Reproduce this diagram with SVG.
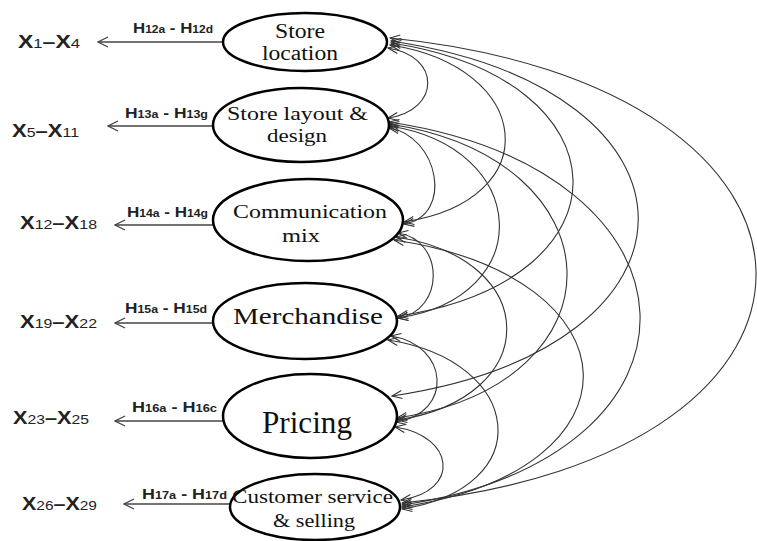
<svg xmlns="http://www.w3.org/2000/svg" width="757" height="541" viewBox="0 0 757 541">
<defs>
<style>
.node ellipse{fill:#fff;stroke:#000;stroke-width:2.5}
.ntx{font-family:"Liberation Serif","Times New Roman",serif;fill:#111}
.lbl{font-family:"Liberation Sans",Arial,sans-serif;font-weight:bold;fill:#222}
.sub{font-weight:normal}
.out{stroke:#444;stroke-width:1.3;fill:none;marker-end:url(#openL)}
.cov{stroke:#333;stroke-width:1.1;fill:none;marker-start:url(#openS);marker-end:url(#openS)}
</style>
<marker id="openL" markerUnits="userSpaceOnUse" markerWidth="12" markerHeight="12" refX="10" refY="5" orient="auto" viewBox="-1 -1 12 12">
<path d="M0,0 L10,5 L0,10" fill="none" stroke="#444" stroke-width="1.3"/>
</marker>
<marker id="openS" markerUnits="userSpaceOnUse" markerWidth="12" markerHeight="10" refX="10" refY="4" orient="auto-start-reverse" viewBox="-1 -1 12 10">
<path d="M0,0 L10,4 L0,8" fill="none" stroke="#333" stroke-width="1.1"/>
</marker>
</defs>
<rect width="757" height="541" fill="#fff"/>

<g id="connectors">
<line class="out" x1="223" y1="42" x2="98" y2="42"/>
<line class="out" x1="213" y1="126" x2="108" y2="126"/>
<line class="out" x1="213" y1="225" x2="115" y2="225"/>
<line class="out" x1="213" y1="323" x2="115" y2="323"/>
<line class="out" x1="223" y1="421" x2="115" y2="421"/>
<line class="out" x1="230" y1="504" x2="124" y2="504"/>

<path class="cov" d="M388,48 C441,56 441,110 388,118"/>
<path class="cov" d="M390,45 C534,67 548,200 404,222"/>
<path class="cov" d="M391,43 C629,79 636,280 398,316"/>
<path class="cov" d="M391,41 C720,90 721,347 392,396"/>
<path class="cov" d="M390,38 C870,86 882,455 402,503"/>
<path class="cov" d="M389,128 C439,136 454,216 404,224"/>
<path class="cov" d="M389,126 C530,147 539,297 398,318"/>
<path class="cov" d="M389,124 C621,159 629,383 397,418"/>
<path class="cov" d="M389,122 C715,171 728,456 402,505"/>
<path class="cov" d="M398,233 C445,240 445,311 398,318"/>
<path class="cov" d="M396,237 C543,259 544,398 397,420"/>
<path class="cov" d="M394,240 C641,277 649,470 402,507"/>
<path class="cov" d="M391,336 C449,345 454,413 396,422"/>
<path class="cov" d="M388,340 C525,361 539,488 402,509"/>
<path class="cov" d="M395,427 C455,436 461,491 401,500"/>
</g>

<g id="n1" class="node">
<ellipse cx="305" cy="42" rx="82" ry="29"/>
<text class="ntx" x="275" y="38" font-size="20" textLength="50" lengthAdjust="spacingAndGlyphs">Store</text>
<text class="ntx" x="262" y="60" font-size="20" textLength="76" lengthAdjust="spacingAndGlyphs">location</text>
</g>
<g id="n2" class="node">
<ellipse cx="301" cy="125" rx="88" ry="37"/>
<text class="ntx" x="227" y="120" font-size="19" textLength="141" lengthAdjust="spacingAndGlyphs">Store layout &amp;</text>
<text class="ntx" x="267" y="142" font-size="19" textLength="60" lengthAdjust="spacingAndGlyphs">design</text>
</g>
<g id="n3" class="node">
<ellipse cx="308" cy="220" rx="95" ry="41"/>
<text class="ntx" x="233" y="218" font-size="18" textLength="154" lengthAdjust="spacingAndGlyphs">Communication</text>
<text class="ntx" x="282" y="242" font-size="18" textLength="38" lengthAdjust="spacingAndGlyphs">mix</text>
</g>
<g id="n4" class="node">
<ellipse cx="305" cy="321" rx="92" ry="38"/>
<text class="ntx" x="233" y="324" font-size="24" textLength="150" lengthAdjust="spacingAndGlyphs">Merchandise</text>
</g>
<g id="n5" class="node">
<ellipse cx="310" cy="416" rx="87" ry="42"/>
<text class="ntx" x="262" y="433" font-size="32" textLength="90" lengthAdjust="spacingAndGlyphs">Pricing</text>
</g>
<g id="n6" class="node">
<ellipse cx="315" cy="507" rx="85" ry="33"/>
<text class="ntx" x="232" y="503" font-size="18" textLength="161" lengthAdjust="spacingAndGlyphs">Customer service</text>
<text class="ntx" x="273" y="527" font-size="18" textLength="82" lengthAdjust="spacingAndGlyphs">&amp; selling</text>
</g>

<g id="hlabels">
<text class="lbl" x="133" y="33" font-size="14" textLength="80" lengthAdjust="spacingAndGlyphs">H<tspan font-size="10">12a</tspan> - H<tspan font-size="10">12d</tspan></text>
<text class="lbl" x="125" y="118" font-size="14" textLength="83" lengthAdjust="spacingAndGlyphs">H<tspan font-size="10">13a</tspan> - H<tspan font-size="10">13g</tspan></text>
<text class="lbl" x="127" y="217" font-size="14" textLength="81" lengthAdjust="spacingAndGlyphs">H<tspan font-size="10">14a</tspan> - H<tspan font-size="10">14g</tspan></text>
<text class="lbl" x="125" y="313" font-size="14" textLength="82" lengthAdjust="spacingAndGlyphs">H<tspan font-size="10">15a</tspan> - H<tspan font-size="10">15d</tspan></text>
<text class="lbl" x="132" y="412" font-size="14" textLength="85" lengthAdjust="spacingAndGlyphs">H<tspan font-size="10">16a</tspan> - H<tspan font-size="10">16c</tspan></text>
<text class="lbl" x="142" y="499" font-size="14" textLength="85" lengthAdjust="spacingAndGlyphs">H<tspan font-size="10">17a</tspan> - H<tspan font-size="10">17d</tspan></text>
</g>

<g id="xlabels">
<text class="lbl" x="18" y="48" font-size="18" textLength="62" lengthAdjust="spacingAndGlyphs">X<tspan class="sub" font-size="13">1</tspan>–X<tspan class="sub" font-size="13">4</tspan></text>
<text class="lbl" x="12" y="137" font-size="18" textLength="67" lengthAdjust="spacingAndGlyphs">X<tspan class="sub" font-size="13">5</tspan>–X<tspan class="sub" font-size="13">11</tspan></text>
<text class="lbl" x="20" y="229" font-size="18" textLength="77" lengthAdjust="spacingAndGlyphs">X<tspan class="sub" font-size="13">12</tspan>–X<tspan class="sub" font-size="13">18</tspan></text>
<text class="lbl" x="20" y="328" font-size="18" textLength="77" lengthAdjust="spacingAndGlyphs">X<tspan class="sub" font-size="13">19</tspan>–X<tspan class="sub" font-size="13">22</tspan></text>
<text class="lbl" x="13" y="424" font-size="18" textLength="76" lengthAdjust="spacingAndGlyphs">X<tspan class="sub" font-size="13">23</tspan>–X<tspan class="sub" font-size="13">25</tspan></text>
<text class="lbl" x="22" y="510" font-size="18" textLength="75" lengthAdjust="spacingAndGlyphs">X<tspan class="sub" font-size="13">26</tspan>–X<tspan class="sub" font-size="13">29</tspan></text>
</g>
</svg>
